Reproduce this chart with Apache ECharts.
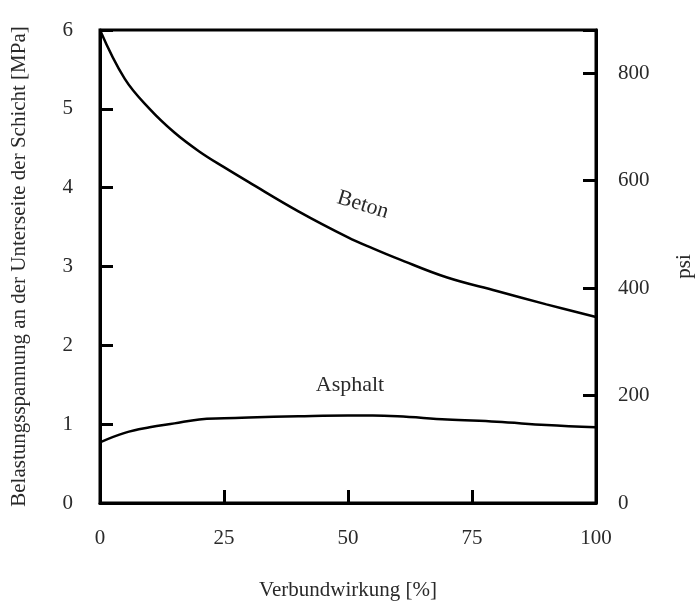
<!DOCTYPE html>
<html>
<head>
<meta charset="utf-8">
<script src="https://cdn.jsdelivr.net/npm/echarts@6/dist/echarts.min.js"></script>
<style>
html, body { margin: 0; padding: 0; background: #fff; }
#chart { width: 697px; height: 601px; }
</style>
</head>
<body>
<div id="chart"></div>
<script>
// Verbundwirkung [%]
var verbund = [0, 5, 10, 15, 20, 25, 30, 40, 50, 55, 60, 70, 80, 90, 100];
// Belastungsspannung [MPa]
var beton   = [6.0, 5.38, 5.0, 4.70, 4.46, 4.26, 4.07, 3.70, 3.37, 3.23, 3.10, 2.86, 2.69, 2.52, 2.36];
var asphalt = [0.77, 0.89, 0.96, 1.01, 1.06, 1.075, 1.085, 1.10, 1.11, 1.11, 1.10, 1.06, 1.03, 0.99, 0.96];
var xTicks = [0, 25, 50, 75, 100];
var mpaTicks = [0, 1, 2, 3, 4, 5, 6];
var psiTicks = [0, 200, 400, 600, 800];

var font = '"Liberation Serif", "Times New Roman", serif';

function pairs(ys) {
    return verbund.map(function (x, i) { return [x, ys[i]]; });
}

var myChart = echarts.init(document.getElementById('chart'));
var option = {
    backgroundColor: '#fff',
    animation: false,
    grid: {
        left: 100,
        right: 101,
        top: 30,
        bottom: 98,
        outerBoundsMode: 'none',
        containLabel: false,
        show: true,
        borderColor: '#000',
        borderWidth: 3
    },
    xAxis: {
        type: 'value',
        min: 0,
        max: 100,
        interval: 25,
        name: 'Verbundwirkung [%]',
        nameLocation: 'middle',
        nameGap: 77,
        nameTextStyle: { fontFamily: font, fontSize: 21, color: '#2a2a2a' },
        axisLine: { lineStyle: { color: '#000', width: 3 } },
        axisTick: { inside: true, length: 13, lineStyle: { color: '#000', width: 3 } },
        axisLabel: { fontFamily: font, fontSize: 21, color: '#2a2a2a', margin: 25 },
        splitLine: { show: false }
    },
    yAxis: [{
        type: 'value',
        min: 0,
        max: 6,
        interval: 1,
        name: 'Belastungsspannung an der Unterseite der Schicht [MPa]',
        nameLocation: 'middle',
        nameRotate: 90,
        nameGap: 70,
        nameTextStyle: { fontFamily: font, fontSize: 21, color: '#2a2a2a' },
        axisLine: { lineStyle: { color: '#000', width: 3 } },
        axisTick: { inside: true, length: 13, lineStyle: { color: '#000', width: 3 } },
        axisLabel: { fontFamily: font, fontSize: 21, color: '#2a2a2a', margin: 27 },
        splitLine: { show: false }
    }, {
        type: 'value',
        position: 'right',
        min: 0,
        max: 880,
        interval: 200,
        name: 'psi',
        nameLocation: 'middle',
        nameRotate: 90,
        nameGap: 78,
        nameTextStyle: { fontFamily: font, fontSize: 21, color: '#2a2a2a' },
        axisLine: { show: true, lineStyle: { color: '#000', width: 3 } },
        axisTick: { inside: true, length: 13, lineStyle: { color: '#000', width: 3 } },
        axisLabel: {
            fontFamily: font, fontSize: 21, color: '#2a2a2a', margin: 22,
            formatter: function (v) { return psiTicks.indexOf(v) >= 0 ? String(v) : ''; }
        },
        splitLine: { show: false }
    }],
    series: [
        {
            name: 'Beton',
            type: 'line',
            smooth: 0.4,
            symbol: 'none',
            data: pairs(beton),
            lineStyle: { color: '#000', width: 2.5 },
            markPoint: {
                symbol: 'circle',
                symbolSize: 0,
                data: [{ coord: [53, 3.78] }],
                label: {
                    show: true,
                    formatter: 'Beton',
                    position: 'inside',
                    rotate: -17,
                    fontFamily: font,
                    fontSize: 22,
                    color: '#2a2a2a'
                }
            }
        },
        {
            name: 'Asphalt',
            type: 'line',
            smooth: 0.4,
            symbol: 'none',
            data: pairs(asphalt),
            lineStyle: { color: '#000', width: 2.5 },
            markPoint: {
                symbol: 'circle',
                symbolSize: 0,
                data: [{ coord: [50.4, 1.50] }],
                label: {
                    show: true,
                    formatter: 'Asphalt',
                    position: 'inside',
                    fontFamily: font,
                    fontSize: 22,
                    color: '#2a2a2a'
                }
            }
        }
    ]
};
myChart.setOption(option);
window.onresize = function () {
    myChart.resize();
};
</script>
</body>
</html>
